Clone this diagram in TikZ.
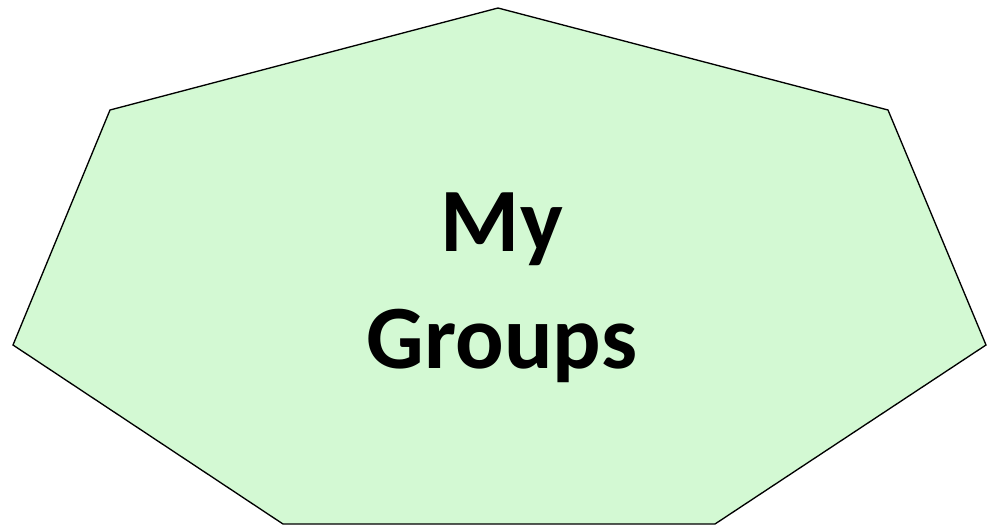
\documentclass[tikz,border=0pt]{standalone}
\usepackage{fontspec}
\setmainfont{Carlito}
\usepackage{xcolor}
\definecolor{groupgreen}{HTML}{D3F9D3}

\begin{document}
\begin{tikzpicture}[
  x=0.0264cm, y=-0.0264cm,
  groupshape/.style={
    draw=black,
    fill=groupgreen,
    line width=1pt,
    line join=miter
  },
  grouplabel/.style={
    align=center,
    inner sep=0pt,
    font=\fontsize{68}{88}\selectfont\bfseries
  }
]
\useasboundingbox (0,0) rectangle (989,530);

% corners of the heptagon
\coordinate (top) at (498,8);
\coordinate (upright) at (888,110);
\coordinate (right) at (986,345);
\coordinate (lowright) at (715,524);
\coordinate (lowleft) at (283,524);
\coordinate (left) at (13,345);
\coordinate (upleft) at (110,110);

\draw[groupshape] (top) -- (upright) -- (right) -- (lowright) --
  (lowleft) -- (left) -- (upleft) -- cycle;

\node[grouplabel] (mygroups) at (502,288) {My\\Groups};

\end{tikzpicture}
\end{document}
